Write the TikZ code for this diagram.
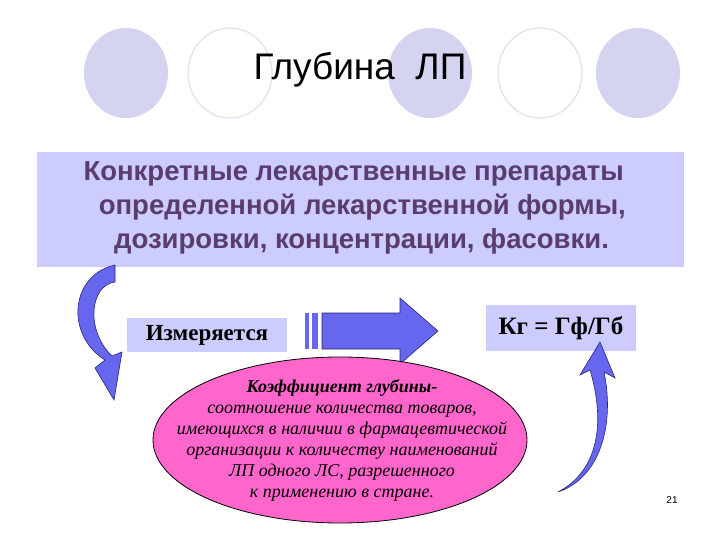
\documentclass[tikz,border=0pt]{standalone}
\usepackage{fontspec}
\setmainfont{Liberation Serif}
\newfontfamily\arialf{Liberation Sans}
\begin{document}
\begin{tikzpicture}[x=1pt,y=-1pt,
  fcirc/.style={fill=lav!85!white,draw=none},
  ocirc/.style={draw=lav!60!white,line width=1.2pt,fill=white},
  bluearr/.style={fill=arrblue,draw=arrdark,line width=0.6pt}]
\definecolor{lav}{RGB}{204,204,238}
\definecolor{boxc}{RGB}{204,204,255}
\definecolor{arrblue}{RGB}{102,102,238}
\definecolor{arrdark}{RGB}{40,40,120}
\definecolor{txtc}{RGB}{90,60,110}
\definecolor{pinkc}{RGB}{255,102,204}
\useasboundingbox (0,0) rectangle (720,540);
\fill[white] (0,0) rectangle (720,540);
\foreach \x/\s in {126/fcirc,230/ocirc,430/fcirc,540/ocirc,638/fcirc}
  \path[\s] (\x,73) ellipse (42 and 45);
\node (title) at (360,70) {\arialf\fontsize{37}{40}\selectfont Глубина\ \ ЛП};
\fill[boxc] (37,152) rectangle (684,267);
\node[align=left,text=txtc,font=\arialf\bfseries\fontsize{27.5}{34}\selectfont,anchor=west] (main) at (80,208)
 {Конкретные лекарственные препараты\\ \ \ определенной лекарственной формы,\\ \ \ \ \ дозировки, концентрации, фасовки.};
% left curved arrow
\path[bluearr] (115,265) .. controls (70,275) and (65,335) .. (105,360) -- (95,368) -- (114,400) -- (122,352) -- (112,356)
  .. controls (85,330) and (90,285) .. (115,282) -- cycle;
\node[fill=boxc,minimum width=160,minimum height=34,font=\bfseries\fontsize{23}{26}\selectfont] (izm) at (207,335) {Измеряется};
% block arrow
\fill[arrblue] (305,313) rectangle (309,349);
\fill[arrblue] (312,313) rectangle (318,349);
\path[bluearr] (322,313) -- (400,313) -- (400,298) -- (438,331) -- (400,364) -- (400,349) -- (322,349) -- cycle;
\node[fill=boxc,minimum width=150,minimum height=46,font=\bfseries\fontsize{25}{28}\selectfont] (kg) at (561,328) {Кг = Гф/Гб};
% ellipse
\path[fill=pinkc,draw=black,line width=0.8pt] (340,440) ellipse (187 and 83);
\node[align=center,font=\itshape\fontsize{18}{21}\selectfont] (def) at (342,440)
 {\bfseries Коэффициент глубины-\\соотношение количества товаров,\\имеющихся в наличии в фармацевтической\\организации к количеству наименований\\ЛП одного ЛС, разрешенного\\к применению в стране.};
% right small arrow
\path[bluearr] (558,492) .. controls (600,470) and (605,420) .. (590,370) -- (580,375) -- (600,342) -- (615,378) -- (604,372)
  .. controls (615,425) and (600,478) .. (558,492) -- cycle;
\node[font=\arialf\fontsize{10}{11}\selectfont] (pg) at (672,500) {21};
\end{tikzpicture}
\end{document}
